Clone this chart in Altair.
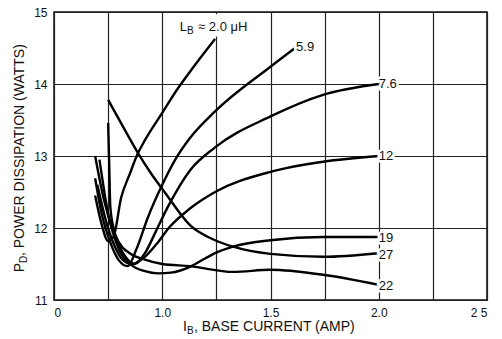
import altair as alt
import pandas as pd

FONT = "Liberation Sans, Arial, sans-serif"

# Curves: base inductance L_B (uH) -> points (I_B amp, P_D watts)
x_20 = [0.69, 0.72, 0.75, 0.775, 0.81, 0.85, 0.888, 0.92, 1.0, 1.068, 1.128, 1.244]
y_20 = [12.45, 12.05, 11.82, 11.88, 12.42, 12.75, 13.04, 13.22, 13.6, 13.92, 14.17, 14.625]

x_59 = [0.69, 0.72, 0.76, 0.80, 0.84, 0.88, 0.934, 1.0, 1.06, 1.128, 1.244, 1.5, 1.618]
y_59 = [12.69, 12.2, 11.8, 11.55, 11.47, 11.7, 12.15, 12.6, 12.95, 13.25, 13.62, 14.24, 14.51]

x_76 = [0.69, 0.73, 0.78, 0.83, 0.87, 0.92, 0.97, 1.027, 1.128, 1.244, 1.5, 1.743, 2.0]
y_76 = [13.0, 12.4, 11.9, 11.6, 11.5, 11.65, 11.95, 12.3, 12.8, 13.12, 13.55, 13.85, 14.0]

x_12 = [0.70, 0.74, 0.78, 0.82, 0.86, 0.92, 0.98, 1.03, 1.128, 1.244, 1.5, 1.743, 2.0]
y_12 = [12.6, 12.1, 11.75, 11.55, 11.5, 11.6, 11.8, 12.0, 12.27, 12.5, 12.78, 12.92, 13.0]

x_19 = [0.71, 0.75, 0.80, 0.86, 0.92, 0.98, 1.04, 1.128, 1.2, 1.244, 1.327, 1.5, 1.743, 2.0]
y_19 = [12.95, 12.2, 11.7, 11.48, 11.4, 11.37, 11.38, 11.46, 11.58, 11.65, 11.74, 11.83, 11.875, 11.875]

x_27 = [0.75, 0.82, 0.888, 0.95, 1.013, 1.128, 1.244, 1.327, 1.5, 1.743, 2.0]
y_27 = [13.78, 13.4, 13.04, 12.75, 12.49, 12.04, 11.83, 11.74, 11.64, 11.6, 11.65]

x_22 = [0.75, 0.755, 0.76, 0.775, 0.80, 0.85, 0.92, 1.0, 1.128, 1.327, 1.5, 1.743, 2.0]
y_22 = [13.46, 12.9, 12.3, 12.0, 11.8, 11.65, 11.56, 11.5, 11.47, 11.39, 11.42, 11.35, 11.21]

series = [("2.0", x_20, y_20), ("5.9", x_59, y_59), ("7.6", x_76, y_76),
          ("12", x_12, y_12), ("19", x_19, y_19), ("27", x_27, y_27), ("22", x_22, y_22)]

rows = []
for name, xs, ys in series:
    for i, (a, b) in enumerate(zip(xs, ys)):
        rows.append({"L": name, "i": i, "ib": a, "pd": b})
df = pd.DataFrame(rows)

# End labels
lab_text = ["5.9", "7.6", "12", "19", "27", "22"]
lab_x = [1.618, 2.0, 2.0, 2.0, 2.0, 2.0]
lab_y = [14.51, 14.0, 13.0, 11.86, 11.625, 11.19]
lab_dx = [-8, 5, 5, 5, 5, 5]
lab_dy = [-10, 0, 0, 0, 0, 0]
labels = pd.DataFrame({"t": lab_text, "x": lab_x, "y": lab_y, "dx": lab_dx, "dy": lab_dy})

x_ticks = [0.5, 0.75, 1.0, 1.25, 1.5, 1.75, 2.0, 2.25, 2.5]
y_ticks = [11, 11.5, 12, 12.5, 13, 13.5, 14, 14.5, 15]

xs = alt.X("ib:Q", scale=alt.Scale(domain=[0.5, 2.5], nice=False, zero=False),
           axis=alt.Axis(values=x_ticks, title=None, grid=True, domain=False, ticks=False,
                         labelExpr="datum.value == 0.5 ? '0' : datum.value == 2.5 ? '2 5' : ((datum.value*4) % 2 == 0 ? format(datum.value, '.1f') : '')",
                         labelPadding=7, labelFont=FONT, labelFontSize=12, labelColor="#111",
                         gridColor="#222", gridWidth=1.2))
ys = alt.Y("pd:Q", scale=alt.Scale(domain=[11, 15], nice=False, zero=False),
           axis=alt.Axis(values=y_ticks, title=None, grid=True, domain=False, ticks=False,
                         labelExpr="datum.value % 1 == 0 ? format(datum.value, 'd') : ''",
                         labelPadding=7, labelFont=FONT, labelFontSize=12, labelColor="#111",
                         gridColor="#222", gridWidth=1.2))

# white box behind the top annotation (hides grid there)
box_df = pd.DataFrame({"x1": [1.08], "x2": [1.42], "y1": [14.66], "y2": [14.97]})
box = alt.Chart(box_df).mark_rect(color="white").encode(
    x=alt.X("x1:Q", scale=alt.Scale(domain=[0.5, 2.5], nice=False, zero=False)), x2="x2:Q",
    y=alt.Y("y1:Q", scale=alt.Scale(domain=[11, 15], nice=False, zero=False)), y2="y2:Q")

lines = alt.Chart(df).mark_line(color="black", strokeWidth=2.4, interpolate="monotone").encode(
    x=xs, y=ys, detail="L:N", order="i:Q")

lab_base = alt.Chart(labels).encode(
    x=alt.X("x:Q"), y=alt.Y("y:Q"), text="t:N",
    xOffset=alt.XOffset("dx:Q", scale=None), yOffset=alt.YOffset("dy:Q", scale=None))
end_halo = lab_base.mark_text(font=FONT, fontSize=13, color="white", stroke="white", strokeWidth=5,
                              align="left", baseline="middle")
end_labels = lab_base.mark_text(font=FONT, fontSize=13, color="#111", align="left", baseline="middle")

top_df = pd.DataFrame({"x": [1.244], "y": [14.79]})
base = alt.Chart(top_df)
t_L = base.mark_text(text="L", font=FONT, fontSize=13, align="right", baseline="middle", dx=-28, color="#111").encode(x="x:Q", y="y:Q")
t_B = base.mark_text(text="B", font=FONT, fontSize=10, align="left", baseline="middle", dx=-28, dy=4, color="#111").encode(x="x:Q", y="y:Q")
t_R = base.mark_text(text="\u2248 2.0 \u03bcH", font=FONT, fontSize=13, align="left", baseline="middle", dx=-17, color="#111").encode(x="x:Q", y="y:Q")

# Axis titles with subscripts (positions in pixels relative to plot area)
xt1 = alt.Chart(top_df).mark_text(text="I", font=FONT, fontSize=14, align="right", baseline="middle", color="#111").encode(
    x=alt.value(133), y=alt.value(315))
xt2 = alt.Chart(top_df).mark_text(text="B", font=FONT, fontSize=10, align="left", baseline="middle", color="#111").encode(
    x=alt.value(133), y=alt.value(319))
xt3 = alt.Chart(top_df).mark_text(text=", BASE CURRENT (AMP)", font=FONT, fontSize=14, align="left", baseline="middle", color="#111").encode(
    x=alt.value(140), y=alt.value(315))

yt1 = alt.Chart(top_df).mark_text(text="P", font=FONT, fontSize=14, align="right", baseline="middle", angle=270, color="#111").encode(
    x=alt.value(-34), y=alt.value(251))
yt2 = alt.Chart(top_df).mark_text(text="D", font=FONT, fontSize=10, align="left", baseline="middle", angle=270, color="#111").encode(
    x=alt.value(-30), y=alt.value(251))
yt3 = alt.Chart(top_df).mark_text(text=", POWER DISSIPATION (WATTS)", font=FONT, fontSize=14, align="left", baseline="middle", angle=270, color="#111").encode(
    x=alt.value(-34), y=alt.value(244))

chart = alt.layer(box, lines, end_halo, end_labels, t_L, t_B, t_R, xt1, xt2, xt3, yt1, yt2, yt3).properties(
    width=433, height=288, autosize="none",
    padding={"left": 54, "top": 12, "right": 15, "bottom": 39},
    background="white",
).configure_view(stroke="#111", strokeWidth=1.5)

chart.save("out.html", embed_options={"renderer": "svg", "actions": False})
